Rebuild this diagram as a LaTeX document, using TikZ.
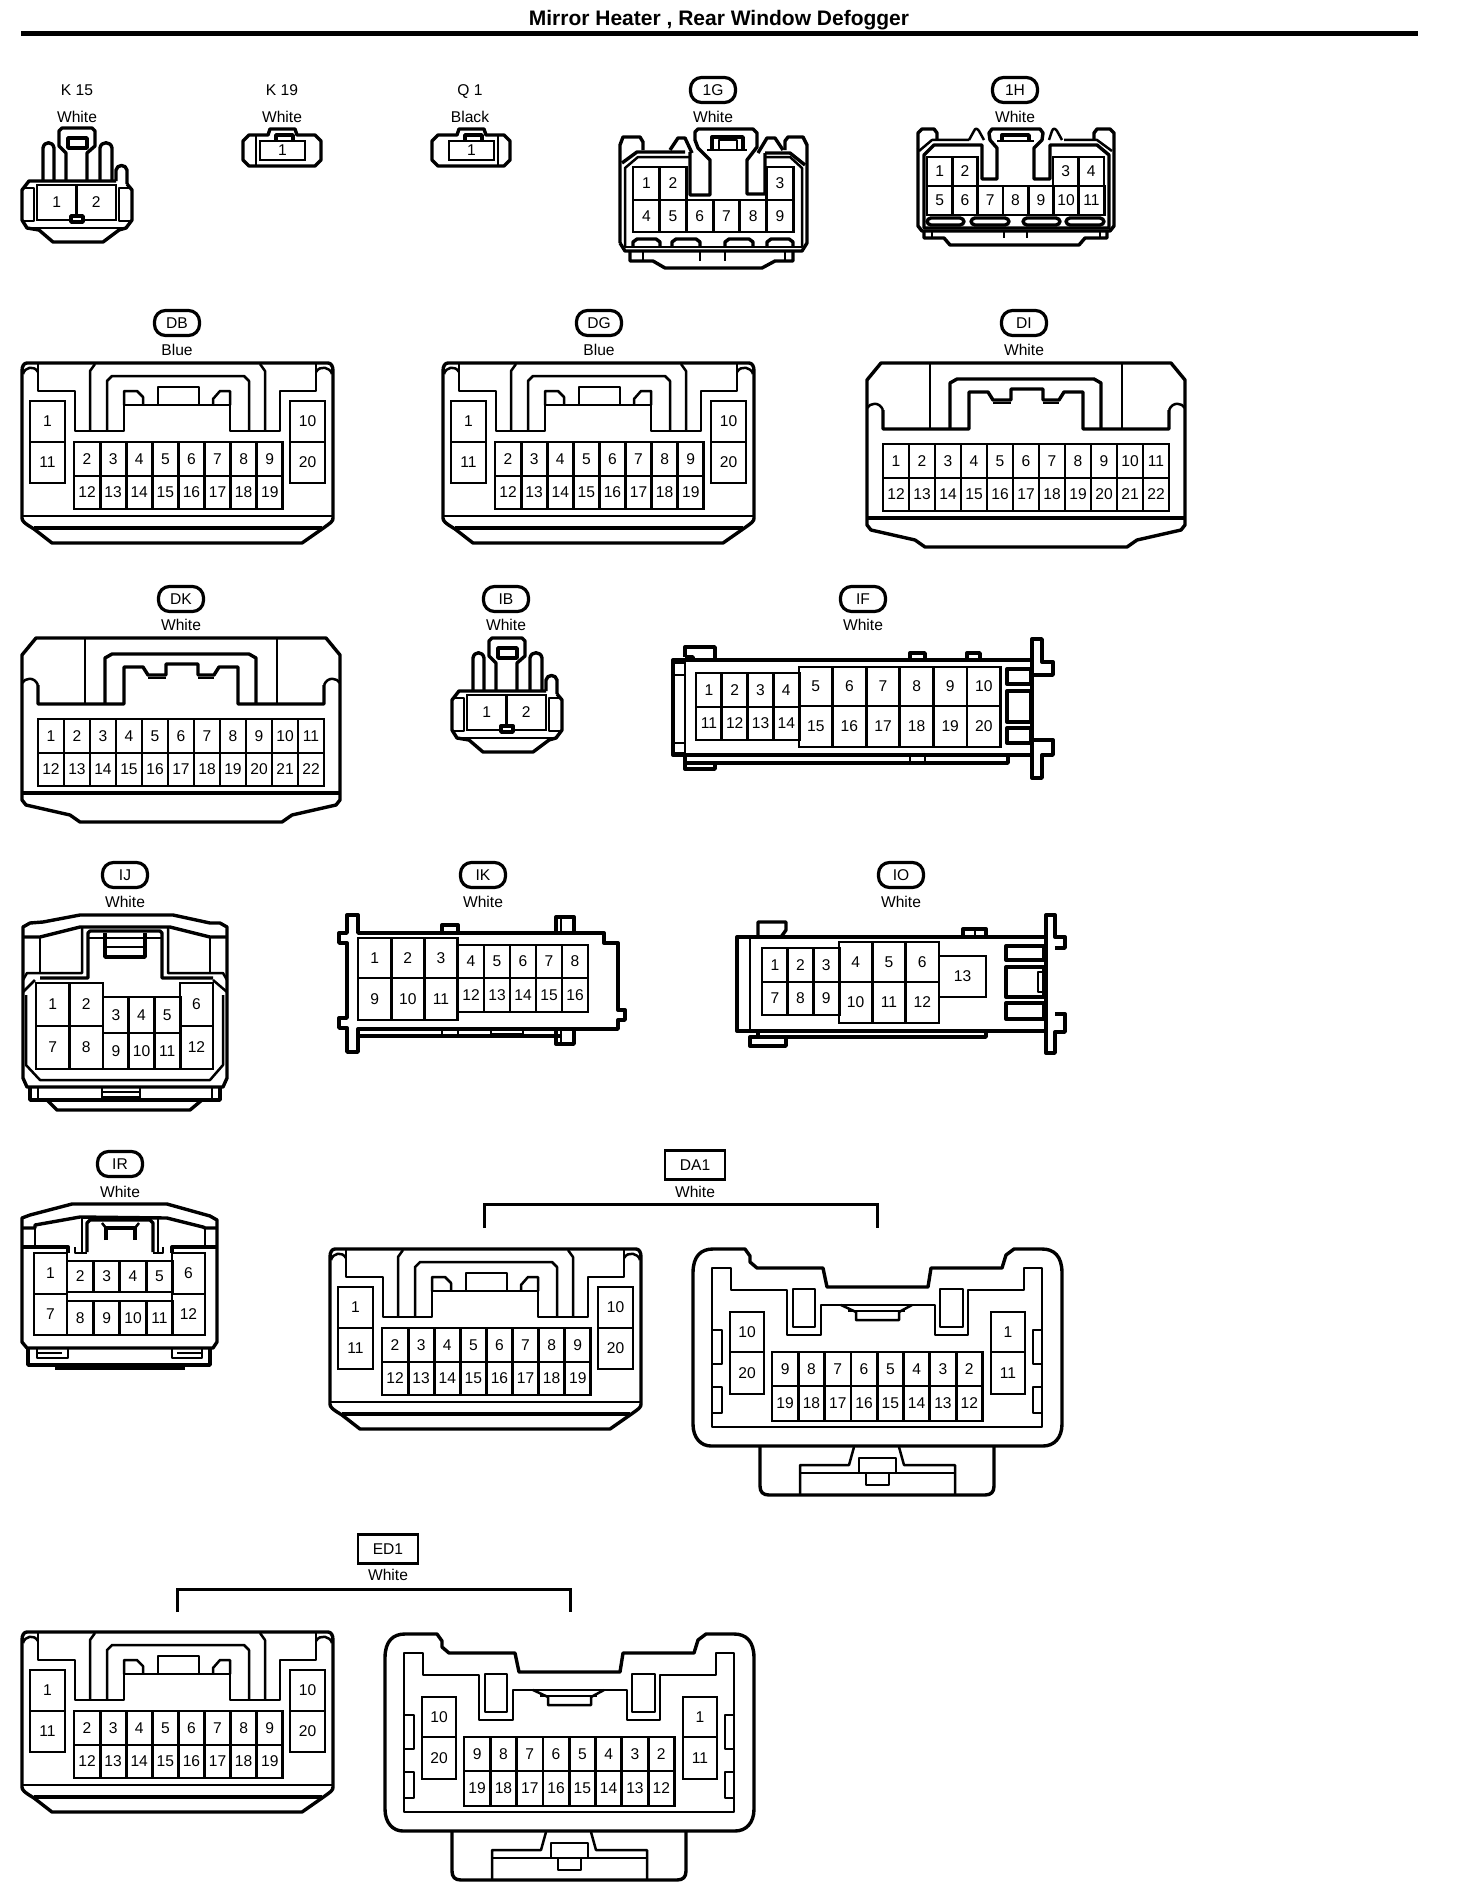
\documentclass[tikz,border=0pt]{standalone}
\usepackage{fontspec}
\setmainfont{Liberation Sans}
\tikzset{
  wall/.style={line width=1.7pt,line join=round},
  thinwall/.style={line width=1.25pt,line join=round},
  pincell/.style={draw,line width=1.4pt,inner sep=0pt,outer sep=0pt,font=\fontsize{7.8}{9}\selectfont},
  idoval/.style={draw,line width=1.6pt,rounded corners=5.5pt,minimum width=22.5pt,minimum height=12.5pt,inner sep=0pt,text height=5.8pt,text depth=0pt,font=\fontsize{7.8}{9}\selectfont},
  idbox/.style={draw,line width=1.1pt,minimum width=30pt,minimum height=14.5pt,inner sep=0pt,text height=5.8pt,text depth=0pt,font=\fontsize{7.8}{9}\selectfont},
  idtext/.style={inner sep=0pt,text height=5.8pt,text depth=0pt,font=\fontsize{7.8}{9}\selectfont},
  bracket/.style={line width=1.5pt}
}

% prefix, x, y, cell width, cell height, pin numbers
\newcommand{\pinrow}[6]{
  \foreach \n [count=\i from 0] in {#6} {
    \node[pincell,minimum width=#4*0.5pt,minimum height=#5*0.5pt] (#1-\n) at ({#2+(\i+0.5)*#4},{#3+#5/2}) {\n};
  }
}

% wide shell, pins 1 to 20
\newcommand{\shellA}[3]{
  \begin{scope}[shift={(#2,#3)}]
    \draw[wall] (0,8) .. controls (0,3) and (2,0) .. (5,0) -- (306,0) .. controls (309,0) and (311,3) .. (311,8)
      -- (311,155) .. controls (311,158) and (310,159) .. (300,166) -- (280,180) -- (30,180) -- (12,166)
      .. controls (2,160) and (0,158) .. (0,155) -- cycle;
    \draw[thinwall] (0,153) -- (311,153);
    \draw[wall] (12,165) -- (300,165);
    \draw[thinwall] (1,11) .. controls (3,4) and (12,2) .. (16,9);
    \draw[thinwall] (294,9) .. controls (298,2) and (308,4) .. (310,11);
    \draw[thinwall] (16,1) -- (16,28) -- (53,28) -- (53,68) -- (102,68) -- (102,42) -- (208,42) -- (208,68) -- (258,68) -- (258,28) -- (294,28) -- (294,1);
    \draw[thinwall] (68,68) -- (68,8) -- (73,1);
    \draw[thinwall] (243,68) -- (243,8) -- (238,1);
    \draw[thinwall] (85,68) -- (85,18) -- (90,13) -- (222,13) -- (227,18) -- (227,68);
    \draw[thinwall] (136,42) -- (136,24) -- (177,24) -- (177,42);
    \draw[thinwall] (102,42) -- (102,28) -- (115,28) -- (121,34) -- (121,42);
    \draw[thinwall] (191,42) -- (191,36) -- (198,28) -- (208,28) -- (208,42);
    \pinrow{#1}{8}{38}{35}{41}{1}
    \pinrow{#1}{8}{79}{35}{41}{11}
    \pinrow{#1}{268}{38}{35}{41}{10}
    \pinrow{#1}{268}{79}{35}{41}{20}
    \pinrow{#1}{52}{79}{26.1}{34}{2,3,4,5,6,7,8,9}
    \pinrow{#1}{52}{113}{26.1}{33}{12,13,14,15,16,17,18,19}
  \end{scope}
}

% wide shell, pins 1 to 22
\newcommand{\shellC}[3]{
  \begin{scope}[shift={(#2,#3)}]
    \draw[wall] (14,0) -- (304,0) -- (318,17) -- (318,162) -- (314,167) -- (270,177) -- (260,184) -- (58,184) -- (48,177) -- (4,167) -- (0,162) -- (0,17) -- cycle;
    \draw[wall] (0,155) -- (318,155);
    \draw[thinwall] (0,45) .. controls (3,40) and (12,38) .. (16,47);
    \draw[thinwall] (302,47) .. controls (306,38) and (315,40) .. (318,45);
    \draw[wall] (16,47) -- (16,66) -- (102,66) -- (102,29) -- (121,29) -- (126,37) -- (144,37) -- (144,26) -- (176,26) -- (176,37) -- (192,37) -- (197,29) -- (216,29) -- (216,66) -- (302,66) -- (302,47);
    \draw[thinwall] (126,40) -- (144,40);
    \draw[thinwall] (176,40) -- (192,40);
    \draw[thinwall] (63,66) -- (63,1);
    \draw[thinwall] (255,66) -- (255,1);
    \draw[wall] (83,66) -- (83,20) -- (90,16) -- (227,16) -- (234,20) -- (234,66);
    \pinrow{#1}{16}{81}{26}{34}{1,2,3,4,5,6,7,8,9,10,11}
    \pinrow{#1}{16}{115}{26}{33}{12,13,14,15,16,17,18,19,20,21,22}
  \end{scope}
}

% small round shell, pins 1 and 2
\newcommand{\shellK}[3]{
  \begin{scope}[shift={(#2,#3)}]
    \draw[wall] (45,53) -- (45,25) -- (38,18) -- (38,3) -- (41,0) -- (71,0) -- (74,3) -- (74,18) -- (66,25) -- (66,53);
    \draw[wall] (47,20) -- (47,10) -- (66,10) -- (66,20) -- cycle;
    \draw[wall] (22,53) -- (22,20) .. controls (23,13) and (32,13) .. (33,20) -- (33,53);
    \draw[wall] (79,53) -- (79,20) .. controls (80,13) and (90,13) .. (91,20) -- (91,53);
    \draw[wall] (95,53) -- (95,42) .. controls (96,36) and (105,36) .. (106,42) -- (106,56);
    \draw[wall] (106,56) -- (111,62) -- (111,92) -- (105,100) -- (98,102) -- (82,114) -- (32,114) -- (18,102) -- (6,100) -- (1,92) -- (1,62) -- (8,53) -- (95,53);
    \draw[thinwall] (6,100) -- (105,100);
    \draw[thinwall] (1,60) -- (13,60) -- (13,93) -- (1,93);
    \draw[thinwall] (111,60) -- (98,60) -- (98,93) -- (111,93);
    \pinrow{#1}{16}{57}{39.5}{35}{1,2}
    \draw[wall,fill=white] (50,88) rectangle (62,94);
  \end{scope}
}

% tiny shell, pin 1
\newcommand{\shellS}[4]{
  \begin{scope}[shift={(#2,#3)}]
    \draw[wall] (6,7) -- (25,7) -- (27,1) -- (52,1) -- (54,7) -- (72,7) -- (78,13) -- (78,32) -- (72,38) -- (6,38) -- (0,32) -- (0,13) -- cycle;
    \draw[wall] (33,13) -- (33,7) -- (50,7) -- (50,13);
    \draw[thinwall] (#4,7) -- (#4,38);
    \pinrow{#1}{17}{13}{45}{19}{1}
  \end{scope}
}

% shell with foot, reversed pins
\newcommand{\shellB}[3]{
  \begin{scope}[shift={(#2,#3)}]
    \draw[wall] (0,25) .. controls (0,8) and (8,1) .. (20,1) -- (52,1) -- (57,8) -- (57,14) -- (64,20) -- (130,20) -- (134,39) -- (235,39) -- (238,20) -- (309,20) -- (313,7) -- (321,1) -- (349,1)
      .. controls (361,1) and (369,8) .. (369,25) -- (369,176) .. controls (369,190) and (361,198) .. (350,198) -- (18,198) .. controls (8,198) and (0,190) .. (0,176) -- cycle;
    \draw[thinwall] (19,179) -- (19,20) -- (38,20) -- (38,42) -- (94,42) -- (94,87) -- (128,87) -- (128,57) -- (242,57) -- (242,87) -- (275,87) -- (275,42) -- (331,42) -- (331,20) -- (349,20) -- (349,179) -- cycle;
    \draw[thinwall] (100,41) rectangle (122,79);
    \draw[thinwall] (247,41) rectangle (270,79);
    \draw[thinwall] (148,57) -- (163,64) -- (163,72) -- (206,72) -- (206,64) -- (219,57);
    \draw[thinwall] (155,63) -- (212,63);
    \draw[thinwall] (19,82) -- (29,82) -- (29,116) -- (19,116);
    \draw[thinwall] (19,139) -- (29,139) -- (29,165) -- (19,165);
    \draw[thinwall] (349,82) -- (340,82) -- (340,116) -- (349,116);
    \draw[thinwall] (349,139) -- (340,139) -- (340,165) -- (349,165);
    \draw[wall] (67,199) -- (67,238) .. controls (67,244) and (70,247) .. (76,247) -- (292,247) .. controls (298,247) and (301,244) .. (301,238) -- (301,199);
    \draw[thinwall] (161,199) -- (156,217) -- (107,217) -- (107,247);
    \draw[thinwall] (206,199) -- (211,217) -- (262,217) -- (262,247);
    \draw[thinwall] (107,225) -- (262,225);
    \draw[thinwall,fill=white] (166,210) rectangle (203,225);
    \draw[thinwall] (173,225) rectangle (196,237);
    \pinrow{#1}{37}{64}{34}{40}{10}
    \pinrow{#1}{37}{104}{34}{42}{20}
    \pinrow{#1}{298}{64}{34}{40}{1}
    \pinrow{#1}{298}{104}{34}{42}{11}
    \pinrow{#1}{79}{104}{26.3}{34}{9,8,7,6,5,4,3,2}
    \pinrow{#1}{79}{138}{26.3}{35}{19,18,17,16,15,14,13,12}
  \end{scope}
}

\begin{document}
\begin{tikzpicture}[x=0.5pt,y=-0.5pt]

  \useasboundingbox (0,0) rectangle (1456,1900);

  \node[inner sep=0pt,font=\bfseries\fontsize{10.5}{12}\selectfont] (title) at (719,20) {Mirror Heater , Rear Window Defogger};
  \coordinate (rule-l) at (21,33.5);
  \coordinate (rule-r) at (1418,33.5);
  \draw[line width=2.5pt] (rule-l) -- (rule-r);

  % first row
  \node[idtext] (K15-id) at (77,90) {K 15};
  \node[idtext] (K15-col) at (77,117) {White};
  \shellK{K15}{21}{128}

  \node[idtext] (K19-id) at (282,90) {K 19};
  \node[idtext] (K19-col) at (282,117) {White};
  \shellS{K19}{243}{128}{13}

  \node[idtext] (Q1-id) at (470,90) {Q 1};
  \node[idtext] (Q1-col) at (470,117) {Black};
  \shellS{Q1}{432}{128}{66}

  \node[idoval] (1G-id) at (713,90) {1G};
  \node[idtext] (1G-col) at (713,117) {White};
  \begin{scope}[shift={(619,128)}]
    \draw[wall] (1,115) -- (1,17) -- (4,9) -- (21,9) -- (24,14) -- (24,22);
    \draw[wall] (166,22) -- (166,13) -- (169,9) -- (184,9) -- (188,17) -- (188,115) -- (183,123) -- (6,123) -- (1,115);
    \draw[wall] (11,123) -- (11,133) -- (34,133) -- (46,140) -- (143,140) -- (156,133) -- (174,133) -- (174,123);
    \draw[thinwall] (24,123) -- (24,133);
    \draw[thinwall] (81,123) -- (81,133);
    \draw[thinwall] (106,123) -- (106,133);
    \draw[thinwall] (166,123) -- (166,133);
    \draw[wall] (3,35) -- (18,24) -- (66,24);
    \draw[wall] (186,37) -- (171,25) -- (146,25);
    \draw[thinwall] (6,119) -- (6,40) -- (19,29) -- (71,29);
    \draw[thinwall] (183,119) -- (183,40) -- (171,29) -- (146,29);
    \draw[thinwall] (6,119) -- (183,119);
    \draw[wall] (71,24) -- (71,67) -- (91,67) -- (91,32) -- (79,20) -- (76,12) -- (76,4) -- (79,1) -- (134,1) -- (138,5) -- (138,19) -- (128,32) -- (128,66) -- (146,66) -- (146,25);
    \draw[wall] (93,22) -- (93,9) -- (124,9) -- (124,22);
    \draw[thinwall] (100,22) -- (100,12) -- (118,12) -- (118,22);
    \draw[thinwall] (88,22) -- (128,22);
    \draw[wall] (51,22) -- (59,10) -- (66,10) -- (73,25);
    \draw[wall] (139,25) -- (148,10) -- (156,10) -- (164,22);
    \pinrow{1G}{14}{39}{26.7}{33}{1,2}
    \pinrow{1G}{147.5}{39}{26.7}{33}{3}
    \pinrow{1G}{14}{72}{26.7}{32}{4,5,6,7,8,9}
    \draw[wall] (14,118) -- (14,114) -- (18,111) -- (37,111) -- (41,114) -- (41,118);
    \draw[wall] (53,118) -- (53,114) -- (57,111) -- (77,111) -- (81,114) -- (81,118);
    \draw[wall] (106,118) -- (106,114) -- (110,111) -- (130,111) -- (134,114) -- (134,118);
    \draw[wall] (148,118) -- (148,114) -- (152,111) -- (170,111) -- (174,114) -- (174,118);
  \end{scope}

  \node[idoval] (1H-id) at (1015,90) {1H};
  \node[idtext] (1H-col) at (1015,117) {White};
  \begin{scope}[shift={(917,128)}]
    \draw[wall] (1,20) -- (1,5) -- (5,1) -- (17,1) -- (20,5) -- (20,12);
    \draw[wall] (177,12) -- (177,5) -- (180,1) -- (193,1) -- (197,5) -- (197,20);
    \draw[wall] (1,20) -- (1,98) -- (5,103) -- (193,103) -- (197,98) -- (197,20);
    \draw[wall] (7,103) -- (7,110) -- (27,110) -- (33,117) -- (162,117) -- (168,110) -- (190,110) -- (190,103);
    \draw[thinwall] (15,103) -- (15,110);
    \draw[thinwall] (87,103) -- (87,110);
    \draw[thinwall] (110,103) -- (110,110);
    \draw[thinwall] (183,103) -- (183,110);
    \draw[thinwall] (2,23) -- (15,12) -- (52,12);
    \draw[thinwall] (147,12) -- (180,12) -- (195,23);
    \draw[wall] (7,100) -- (7,27) -- (17,17) -- (65,17) -- (65,51) -- (80,51) -- (80,20) -- (73,12) -- (72,5) -- (75,1) -- (123,1) -- (126,5) -- (125,12) -- (117,20) -- (117,51) -- (133,51) -- (133,17) -- (180,17) -- (192,27) -- (192,100) -- cycle;
    \draw[wall] (85,12) -- (85,7) -- (112,7) -- (112,12);
    \draw[thinwall] (80,13) -- (117,13);
    \draw[thinwall] (52,12) -- (57,3) .. controls (58,0) and (60,0) .. (62,3) -- (67,12);
    \draw[thinwall] (132,12) -- (135,3) .. controls (136,0) and (138,0) .. (140,3) -- (145,12);
    \pinrow{1H}{10}{29}{25.3}{29}{1,2}
    \pinrow{1H}{136}{29}{25.5}{29}{3,4}
    \pinrow{1H}{10}{58}{25.3}{29}{5,6,7,8,9,10,11}
    \draw[wall,rounded corners=2pt] (10,90) rectangle (47,97);
    \draw[wall,rounded corners=2pt] (54,90) rectangle (92,97);
    \draw[wall,rounded corners=2pt] (106,90) rectangle (143,97);
    \draw[wall,rounded corners=2pt] (149,90) rectangle (187,97);
  \end{scope}

  % second row
  \node[idoval] (DB-id) at (177,323) {DB};
  \node[idtext] (DB-col) at (177,350) {Blue};
  \shellA{DB}{22}{363}

  \node[idoval] (DG-id) at (599,323) {DG};
  \node[idtext] (DG-col) at (599,350) {Blue};
  \shellA{DG}{443}{363}

  \node[idoval] (DI-id) at (1024,323) {DI};
  \node[idtext] (DI-col) at (1024,350) {White};
  \shellC{DI}{867}{363}

  % third row
  \node[idoval] (DK-id) at (181,599) {DK};
  \node[idtext] (DK-col) at (181,625) {White};
  \shellC{DK}{22}{638}

  \node[idoval] (IB-id) at (506,599) {IB};
  \node[idtext] (IB-col) at (506,625) {White};
  \shellK{IB}{451}{638}

  \node[idoval] (IF-id) at (863,599) {IF};
  \node[idtext] (IF-col) at (863,625) {White};
  \begin{scope}[shift={(673,638)}]
    \draw[wall] (0,22) rectangle (359,117);
    \draw[thinwall] (12,22) -- (12,117);
    \draw[thinwall] (0,25) -- (12,25);
    \draw[thinwall] (0,37) -- (12,37);
    \draw[thinwall] (0,105) -- (12,105);
    \draw[thinwall] (0,115) -- (12,115);
    \draw[wall] (359,22) -- (359,1) -- (369,1) -- (369,24) -- (380,24) -- (380,37) -- (360,37);
    \draw[wall] (360,102) -- (380,102) -- (380,117) -- (369,117) -- (369,140) -- (359,140) -- (359,117);
    \draw[wall] (12,19) -- (12,9) -- (42,9) -- (42,22);
    \draw[wall] (12,19) -- (20,19) -- (20,22);
    \draw[wall] (12,117) -- (12,131) -- (42,131) -- (42,125);
    \draw[wall] (12,125) -- (335,125) -- (335,117);
    \draw[wall] (237,22) -- (237,15) -- (252,15) -- (252,22);
    \draw[wall] (294,22) -- (294,15) -- (307,15) -- (307,22);
    \draw[thinwall] (237,117) -- (237,125);
    \draw[thinwall] (252,117) -- (252,125);
    \draw[wall] (334,31) rectangle (358,46);
    \draw[wall] (334,53) rectangle (358,84);
    \draw[wall] (334,90) rectangle (358,105);
    \pinrow{IF}{23}{35}{25.8}{34}{1,2,3,4}
    \pinrow{IF}{23}{69}{25.8}{33}{11,12,13,14}
    \pinrow{IF}{126}{29}{33.6}{39}{5,6,7,8,9,10}
    \pinrow{IF}{126}{68}{33.6}{41}{15,16,17,18,19,20}
  \end{scope}

  % fourth row
  \node[idoval] (IJ-id) at (125,875) {IJ};
  \node[idtext] (IJ-col) at (125,902) {White};
  \begin{scope}[shift={(22,915)}]
    \draw[wall] (1,12) -- (8,8) -- (21,7) -- (58,0) -- (151,0) -- (188,8) -- (198,8) -- (205,12) -- (205,163) -- (201,172) -- (5,172) -- (1,163) -- cycle;
    \draw[wall] (1,22) -- (18,22) -- (58,12) -- (148,12) -- (188,22) -- (205,22);
    \draw[thinwall] (18,22) -- (18,58);
    \draw[thinwall] (188,22) -- (188,58);
    \draw[thinwall] (60,12) -- (60,58) -- (5,58) -- (1,65);
    \draw[thinwall] (146,12) -- (146,58) -- (201,58) -- (205,65);
    \draw[wall] (18,63) -- (66,63) -- (66,18) -- (68,16) -- (138,16) -- (140,18) -- (140,63) -- (191,63);
    \draw[wall] (83,18) -- (83,42) -- (123,42) -- (123,18);
    \draw[thinwall] (66,23) -- (140,23);
    \draw[thinwall] (83,32) -- (123,32);
    \draw[thinwall] (1,77) -- (13,65);
    \draw[thinwall] (191,65) -- (205,77);
    \draw[thinwall] (4,80) -- (4,150) -- (18,165) -- (188,165) -- (201,150) -- (201,80);
    \draw[wall] (8,173) -- (8,185) -- (198,185) -- (198,173);
    \draw[wall] (25,185) -- (35,195) -- (168,195) -- (180,185);
    \draw[thinwall] (16,173) -- (16,185);
    \draw[thinwall] (190,173) -- (190,185);
    \draw[thinwall] (80,173) -- (80,185);
    \draw[thinwall] (118,173) -- (118,185);
    \draw[thinwall] (80,177) -- (118,177);
    \draw[thinwall] (80,182) -- (118,182);
    \pinrow{IJ}{14}{68}{33.5}{43}{1,2}
    \pinrow{IJ}{14}{111}{33.5}{43}{7,8}
    \pinrow{IJ}{81}{82}{25.7}{36}{3,4,5}
    \pinrow{IJ}{81}{118}{25.7}{36}{9,10,11}
    \pinrow{IJ}{158}{68}{33}{43}{6}
    \pinrow{IJ}{158}{111}{33}{43}{12}
  \end{scope}

  \node[idoval] (IK-id) at (483,875) {IK};
  \node[idtext] (IK-col) at (483,902) {White};
  \begin{scope}[shift={(339,915)}]
    \draw[wall] (8,18) -- (8,0) -- (19,0) -- (19,18) -- (265,18) -- (265,28) -- (279,28) -- (279,95) -- (286,95) -- (286,105) -- (279,105) -- (279,114) -- (19,114) -- (19,137) -- (8,137) -- (8,113) -- (0,113) -- (0,103) -- (8,103) -- (8,28) -- (0,28) -- (0,18) -- cycle;
    \draw[wall] (19,121) -- (222,121);
    \draw[wall] (103,18) -- (103,10) -- (119,10) -- (119,18);
    \draw[wall] (217,18) -- (217,2) -- (235,2) -- (235,18);
    \draw[thinwall] (222,2) -- (222,18);
    \draw[wall] (217,114) -- (217,129) -- (235,129) -- (235,114);
    \draw[thinwall] (222,114) -- (222,129);
    \draw[thinwall] (103,114) -- (103,121);
    \draw[thinwall] (119,114) -- (119,121);
    \draw[thinwall] (152,114) rectangle (184,119);
    \pinrow{IK}{19}{23}{33.2}{40}{1,2,3}
    \pinrow{IK}{19}{63}{33.2}{42}{9,10,11}
    \pinrow{IK}{119}{30}{26}{33}{4,5,6,7,8}
    \pinrow{IK}{119}{63}{26}{34}{12,13,14,15,16}
  \end{scope}

  \node[idoval] (IO-id) at (901,875) {IO};
  \node[idtext] (IO-col) at (901,902) {White};
  \begin{scope}[shift={(737,915)}]
    \draw[wall] (0,22) rectangle (309,116);
    \draw[thinwall] (13,22) -- (13,116);
    \draw[wall] (309,22) -- (309,0) -- (318,0) -- (318,22) -- (328,22) -- (328,33) -- (318,33);
    \draw[wall] (318,99) -- (328,99) -- (328,117) -- (318,117) -- (318,138) -- (309,138) -- (309,116);
    \draw[wall] (21,22) -- (21,7) -- (49,7) -- (49,15) -- (44,22);
    \draw[wall] (13,122) rectangle (49,131);
    \draw[wall] (21,116) -- (21,122) -- (249,122) -- (249,116);
    \draw[wall] (226,22) -- (226,14) -- (249,14) -- (249,22);
    \draw[thinwall] (238,14) -- (238,22);
    \draw[wall] (269,31) rectangle (307,45);
    \draw[wall] (269,52) rectangle (307,82);
    \draw[thinwall] (301,57) rectangle (307,77);
    \draw[wall] (269,88) rectangle (307,104);
    \pinrow{IO}{25}{33}{25.7}{34}{1,2,3}
    \pinrow{IO}{25}{67}{25.7}{33}{7,8,9}
    \pinrow{IO}{102}{27}{33.3}{40}{4,5,6}
    \pinrow{IO}{102}{67}{33.3}{41}{10,11,12}
    \pinrow{IO}{202}{41}{47}{41}{13}
  \end{scope}

  % fifth row
  \node[idoval] (IR-id) at (120,1164) {IR};
  \node[idtext] (IR-col) at (120,1192) {White};
  \begin{scope}[shift={(22,1203)}]
    \draw[wall] (0,15) -- (8,12) -- (50,1) -- (145,1) -- (188,13) -- (195,17) -- (195,139) -- (191,145) -- (5,145) -- (0,139) -- cycle;
    \draw[wall] (0,25) -- (13,25) -- (13,22) -- (58,14) -- (145,15) -- (181,24) -- (183,25) -- (195,25);
    \draw[thinwall] (13,25) -- (13,42);
    \draw[thinwall] (183,25) -- (183,42);
    \draw[wall] (0,44) -- (46,44) -- (46,50);
    \draw[wall] (195,44) -- (150,44) -- (150,50);
    \draw[thinwall] (53,44) -- (53,50) -- (65,50);
    \draw[thinwall] (60,14) -- (60,50);
    \draw[thinwall] (141,44) -- (141,50) -- (131,50);
    \draw[thinwall] (136,15) -- (136,50);
    \draw[wall] (65,49) -- (65,20) -- (68,17) -- (128,17) -- (131,20) -- (131,49);
    \draw[wall] (84,37) -- (84,25) -- (113,25) -- (113,37);
    \draw[thinwall] (80,20) -- (84,25);
    \draw[thinwall] (117,20) -- (113,25);
    \draw[wall] (6,145) -- (6,162) -- (188,162) -- (188,145);
    \draw[wall] (33,165) -- (163,165);
    \draw[thinwall] (15,145) -- (15,155) -- (46,155) -- (46,145);
    \draw[thinwall] (15,150) -- (40,150);
    \draw[thinwall] (150,145) -- (150,155) -- (180,155) -- (180,145);
    \draw[thinwall] (155,150) -- (180,150);
    \pinrow{IR}{12}{50}{33}{41}{1}
    \pinrow{IR}{12}{91}{33}{41}{7}
    \pinrow{IR}{45}{58}{26.4}{31}{2,3,4,5}
    \pinrow{IR}{45}{98}{26.4}{34}{8,9,10,11}
    \pinrow{IR}{150}{50}{33}{41}{6}
    \pinrow{IR}{150}{91}{33}{41}{12}
  \end{scope}

  \node[idbox] (DA1-id) at (695,1165) {DA1};
  \node[idtext] (DA1-col) at (695,1192) {White};
  \coordinate (DA1-l) at (484,1228);
  \coordinate (DA1-top) at (680,1204);
  \coordinate (DA1-r) at (877,1228);
  \draw[bracket] (DA1-l) |- (DA1-top) -| (DA1-r);
  \shellA{DA1L}{330}{1249}
  \shellB{DA1R}{693}{1248}

  % last row
  \node[idbox] (ED1-id) at (388,1549) {ED1};
  \node[idtext] (ED1-col) at (388,1575) {White};
  \coordinate (ED1-l) at (177,1612);
  \coordinate (ED1-top) at (380,1589);
  \coordinate (ED1-r) at (570,1612);
  \draw[bracket] (ED1-l) |- (ED1-top) -| (ED1-r);
  \shellA{ED1L}{22}{1632}
  \shellB{ED1R}{385}{1633}

\end{tikzpicture}
\end{document}
